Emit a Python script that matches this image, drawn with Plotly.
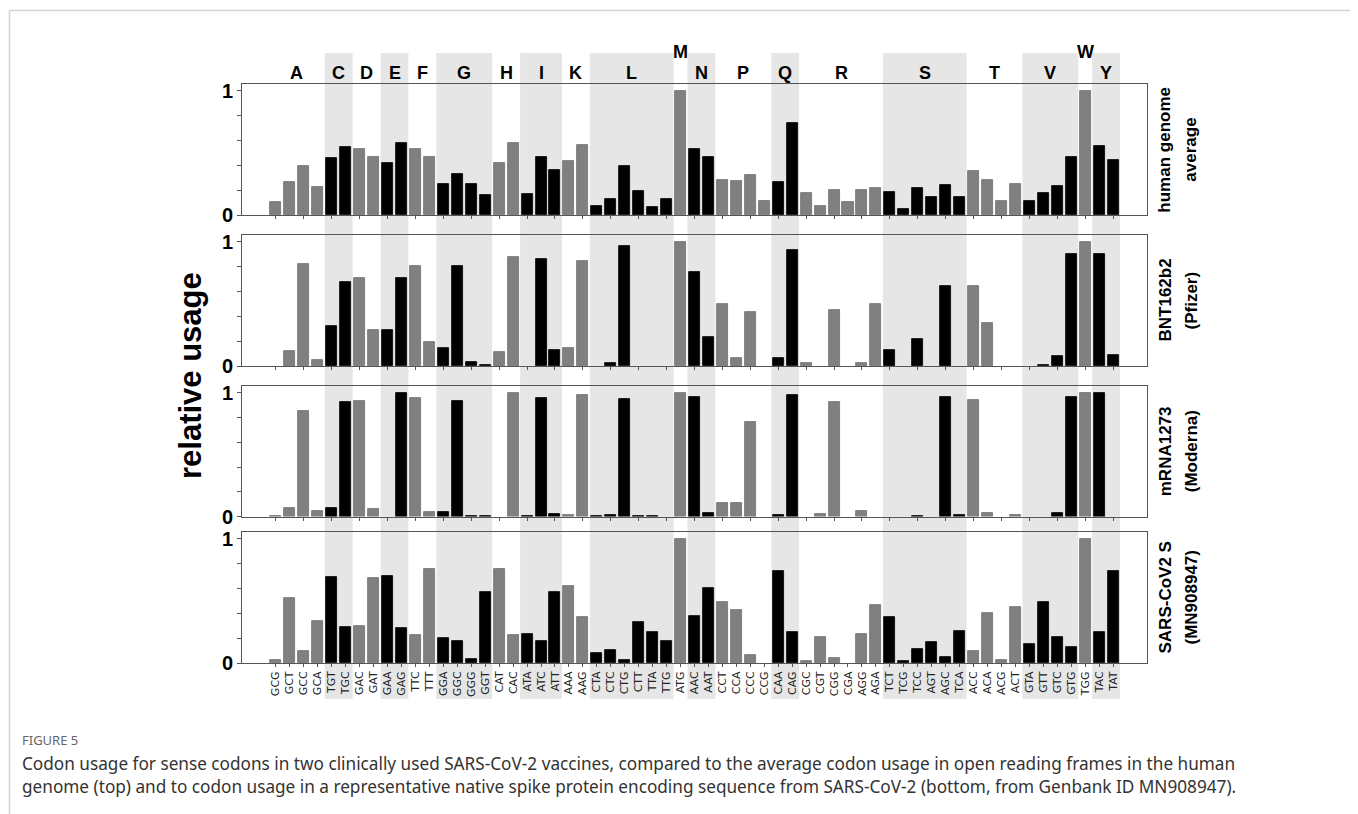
import plotly.graph_objects as go

# ---------------- data ----------------
amino_acids = ["A", "C", "D", "E", "F", "G", "H", "I", "K", "L",
               "M", "N", "P", "Q", "R", "S", "T", "V", "W", "Y"]
aa_sizes = [4, 2, 2, 2, 2, 4, 2, 3, 2, 6, 1, 2, 4, 2, 6, 6, 4, 4, 1, 2]
codons = ["GCG", "GCT", "GCC", "GCA", "TGT", "TGC", "GAC", "GAT", "GAA", "GAG",
          "TTC", "TTT", "GGA", "GGC", "GGG", "GGT", "CAT", "CAC", "ATA", "ATC",
          "ATT", "AAA", "AAG", "CTA", "CTC", "CTG", "CTT", "TTA", "TTG", "ATG",
          "AAC", "AAT", "CCT", "CCA", "CCC", "CCG", "CAA", "CAG", "CGC", "CGT",
          "CGG", "CGA", "AGG", "AGA", "TCT", "TCG", "TCC", "AGT", "AGC", "TCA",
          "ACC", "ACA", "ACG", "ACT", "GTA", "GTT", "GTC", "GTG", "TGG", "TAC",
          "TAT"]

human = [0.104, 0.265, 0.40, 0.227, 0.457, 0.545, 0.535, 0.465, 0.422, 0.578,
         0.535, 0.465, 0.249, 0.334, 0.249, 0.16, 0.417, 0.58, 0.168, 0.468,
         0.361, 0.433, 0.564, 0.078, 0.131, 0.393, 0.193, 0.07, 0.127, 1.0,
         0.529, 0.47, 0.286, 0.275, 0.324, 0.112, 0.265, 0.738, 0.182, 0.078,
         0.20, 0.11, 0.203, 0.217, 0.187, 0.051, 0.219, 0.15, 0.241, 0.15,
         0.356, 0.283, 0.115, 0.249, 0.115, 0.179, 0.238, 0.465, 1.0, 0.556,
         0.444]
pfizer = [0.0, 0.123, 0.821, 0.048, 0.323, 0.675, 0.707, 0.288, 0.291, 0.707,
          0.803, 0.192, 0.144, 0.803, 0.032, 0.011, 0.115, 0.88, 0.0, 0.864,
          0.128, 0.149, 0.848, 0.0, 0.027, 0.968, 0.0, 0.0, 0.0, 1.0,
          0.76, 0.237, 0.496, 0.064, 0.432, 0.0, 0.064, 0.933, 0.021, 0.0,
          0.448, 0.0, 0.021, 0.496, 0.128, 0.0, 0.221, 0.0, 0.645, 0.0,
          0.645, 0.349, 0.0, 0.0, 0.0, 0.008, 0.08, 0.901, 1.0, 0.901,
          0.088]
moderna = [0.008, 0.072, 0.856, 0.048, 0.072, 0.923, 0.931, 0.064, 0.0, 0.995,
           0.96, 0.035, 0.035, 0.936, 0.008, 0.008, 0.0, 0.995, 0.008, 0.96,
           0.024, 0.013, 0.979, 0.008, 0.016, 0.949, 0.005, 0.005, 0.0, 1.0,
           0.963, 0.029, 0.112, 0.112, 0.763, 0.0, 0.013, 0.979, 0.0, 0.019,
           0.925, 0.0, 0.045, 0.0, 0.0, 0.0, 0.005, 0.0, 0.965, 0.016,
           0.944, 0.027, 0.0, 0.016, 0.0, 0.0, 0.027, 0.965, 0.995, 0.995,
           0.0]
sarscov2 = [0.022, 0.527, 0.094, 0.339, 0.696, 0.293, 0.301, 0.688, 0.704, 0.285,
            0.228, 0.761, 0.202, 0.177, 0.032, 0.57, 0.761, 0.228, 0.231, 0.18,
            0.575, 0.618, 0.371, 0.078, 0.108, 0.022, 0.328, 0.253, 0.18, 1.0,
            0.382, 0.608, 0.495, 0.425, 0.062, 0.0, 0.737, 0.253, 0.019, 0.21,
            0.043, 0.0, 0.231, 0.47, 0.368, 0.013, 0.116, 0.167, 0.046, 0.261,
            0.097, 0.406, 0.027, 0.449, 0.151, 0.492, 0.212, 0.129, 1.0, 0.253,
            0.737]

panel_names = [["human genome", "average"], ["BNT162b2", "(Pfizer)"],
               ["mRNA1273", "(Moderna)"], ["SARS-CoV2 S", "(MN908947)"]]
series = [human, pfizer, moderna, sarscov2]

caption_title = "FIGURE 5"
caption_lines = [
    "Codon usage for sense codons in two clinically used SARS-CoV-2 vaccines, compared to the average codon usage in open reading frames in the human",
    "genome (top) and to codon usage in a representative native spike protein encoding sequence from SARS-CoV-2 (bottom, from Genbank ID MN908947).",
]

# ---------------- geometry helpers (page pixel -> paper coords) ----------------
OFF = 8                      # default body margin of the html page
W, H = 1358 - OFF, 814 - OFF
L, R, T, B = 242, 1147, 84, 663   # plot area in page pixels


def px(xp):
    return (xp - L) / (R - L)


def py(yp):
    return (B - yp) / (B - T)


panel_px = [(84, 215.3), (235, 366), (386, 516.5), (532, 663)]

# group index of each codon
group_of = []
for gi, n in enumerate(aa_sizes):
    group_of += [gi] * n
bar_colors = ["#000000" if group_of[i] % 2 else "#808080" for i in range(len(codons))]
line_colors = ["#000000" if group_of[i] % 2 else "#6e6e6e" for i in range(len(codons))]

fig = go.Figure()
for k, vals in enumerate(series):
    sfx = "" if k == 0 else str(k + 1)
    widths = [0.8 if v > 0 else 0 for v in vals]
    fig.add_trace(go.Bar(
        x=codons, y=vals, width=0.79,
        marker=dict(color=bar_colors, line=dict(color=line_colors, width=widths)),
        xaxis="x" + sfx, yaxis="y" + sfx, showlegend=False,
        hovertemplate="%{x}: %{y}<extra></extra>",
    ))

xr = [-2.43, len(codons) - 1 + 2.43]
layout = dict(
    width=W, height=H,
    margin=dict(l=L - OFF, r=W - (R - OFF), t=T - OFF, b=H - (B - OFF), pad=0),
    paper_bgcolor="white", plot_bgcolor="rgba(0,0,0,0)",
    bargap=0,
    font=dict(family="Liberation Sans, Arial", color="black"),
)
for k in range(4):
    sfx = "" if k == 0 else str(k + 1)
    top, bot = panel_px[k]
    layout["xaxis" + sfx] = dict(
        domain=[0, 1], anchor="y" + sfx, type="category",
        categoryorder="array", categoryarray=codons,
        range=xr, showline=True, linecolor="#555", linewidth=1, mirror=True,
        ticks="outside", ticklen=3, tickcolor="#555", tickwidth=1,
        showgrid=False, zeroline=False,
        showticklabels=(k == 3),
        tickangle=-90,
        tickfont=dict(family="DejaVu Sans", size=11, color="#222"),
        fixedrange=True,
    )
    layout["yaxis" + sfx] = dict(
        domain=[py(bot), py(top)], anchor="x" + sfx,
        range=[0, 1.055], showline=True, linecolor="#555", linewidth=1, mirror=True,
        ticks="outside", ticklen=4, tickcolor="#555", tickwidth=1,
        tickvals=[0, 0.2, 0.4, 0.6, 0.8, 1.0], ticktext=["0", "", "", "", "", "1"],
        tickfont=dict(family="Liberation Sans, Arial", size=20, weight="bold", color="black"),
        showgrid=False, zeroline=False, fixedrange=True,
    )
fig.update_layout(**layout)

# shaded bands for alternating amino acids + amino-acid labels
shapes = []
annotations = []
start = 0
for gi, (aa, n) in enumerate(zip(amino_acids, aa_sizes)):
    center = start + (n - 1) / 2
    if gi % 2 == 1:
        shapes.append(dict(type="rect", xref="x", yref="paper",
                           x0=start - 0.5, x1=start + n - 0.5,
                           y0=py(699), y1=py(53),
                           fillcolor="#e6e6e6", line=dict(width=0), layer="below"))
    ytxt = py(52) if n == 1 else py(73.5)
    annotations.append(dict(x=center, y=ytxt, xref="x", yref="paper", text=aa,
                            showarrow=False, xanchor="center", yanchor="middle",
                            font=dict(family="Liberation Sans, Arial", size=18,
                                      weight="bold", color="black")))
    start += n

# frame lines of the figure box
shapes.append(dict(type="line", xref="paper", yref="paper",
                   x0=px(9.5), x1=px(1358), y0=py(10.5), y1=py(10.5),
                   line=dict(color="#d4d4d4", width=1.5)))
shapes.append(dict(type="line", xref="paper", yref="paper",
                   x0=px(9.5), x1=px(9.5), y0=py(10.5), y1=py(814),
                   line=dict(color="#d4d4d4", width=1.5)))

# right-hand panel labels
for k, (l1, l2) in enumerate(panel_names):
    top, bot = panel_px[k]
    yc = py((top + bot) / 2)
    for xpos, txt in ((1165, l1), (1191, l2)):
        annotations.append(dict(x=px(xpos), y=yc, xref="paper", yref="paper",
                                text=txt, textangle=-90, showarrow=False,
                                xanchor="center", yanchor="middle",
                                font=dict(family="Liberation Sans, Arial", size=17,
                                          weight="bold", color="black")))

# y axis title
annotations.append(dict(x=px(190), y=py(376), xref="paper", yref="paper",
                        text="relative usage", textangle=-90, showarrow=False,
                        xanchor="center", yanchor="middle",
                        font=dict(family="Liberation Sans, Arial", size=31,
                                  weight="bold", color="black")))

# caption
annotations.append(dict(x=px(20), y=py(740), xref="paper", yref="paper",
                        text=caption_title, showarrow=False, xanchor="left",
                        yanchor="middle",
                        font=dict(family="Noto Sans", size=13, color="#666")))
for i, line in enumerate(caption_lines):
    annotations.append(dict(x=px(20), y=py(763 + 23 * i), xref="paper", yref="paper",
                            text=line, showarrow=False, xanchor="left",
                            yanchor="middle",
                            font=dict(family="Noto Sans", size=17.2, color="#333")))

fig.update_layout(shapes=shapes, annotations=annotations)
fig.write_html("out.html")
